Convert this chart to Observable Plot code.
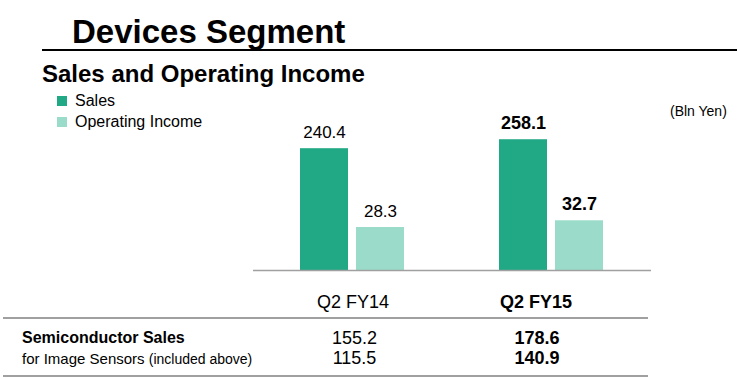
<!DOCTYPE html>
<html><head><meta charset="utf-8">
<script src="https://cdn.jsdelivr.net/npm/d3@7"></script>
<script src="https://cdn.jsdelivr.net/npm/@observablehq/plot@0.6"></script>
<style>
body{margin:0;background:#fff;font-family:"Liberation Sans",Arial,sans-serif;color:#000;}
#page{position:relative;width:737px;height:379px;overflow:hidden;background:#fff;}
.abs{position:absolute;white-space:nowrap;line-height:1;}
</style></head><body><div id="page"></div>
<script>
const periods = ["Q2 FY14", "Q2 FY15"];
const series = ["Sales", "Operating Income"];
const sales = [240.4, 258.1];
const operatingIncome = [28.3, 32.7];
const tableRows = ["Semiconductor Sales", "for Image Sensors"];
const semiconductorSales = [155.2, 178.6];
const imageSensorSales = [115.5, 140.9];
const colors = ["#21a885", "#9adcc9"];
const oiAxisFactor = 3; // operating income is drawn on its own (secondary) axis, 3x the sales axis

const data = periods.flatMap((p, i) => [
  {period: p, series: "Sales", value: sales[i], plotted: sales[i], current: i === 1},
  {period: p, series: "Operating Income", value: operatingIncome[i], plotted: operatingIncome[i] * oiAxisFactor, current: i === 1}
]);

const page = document.getElementById("page");
function addText(txt, left, top, size, weight, extra) {
  const d = document.createElement("div");
  d.className = "abs";
  d.textContent = txt;
  d.style.left = left + "px";
  d.style.top = top + "px";
  d.style.fontSize = size + "px";
  d.style.fontWeight = weight || "normal";
  if (extra) Object.assign(d.style, extra);
  page.appendChild(d);
  return d;
}
function addBox(left, top, w, h, bg) {
  const d = document.createElement("div");
  d.className = "abs";
  Object.assign(d.style, {left: left + "px", top: top + "px", width: w + "px", height: h + "px", background: bg});
  page.appendChild(d);
}

// Header
addText("Devices Segment", 72, 15, 33, "bold");
addBox(42, 49, 695, 2, "#000");
addText("Sales and Operating Income", 42, 62, 24, "bold");
// Legend
series.forEach((s, i) => {
  addBox(57, 96 + i * 21, 10, 10, colors[i]);
  addText(s, 75, 92.5 + i * 21, 16, "normal");
});
addText("(Bln Yen)", 670, 104, 14, "normal");

// Chart
const chart = Plot.plot({
  width: 737, height: 218,
  marginTop: 18, marginBottom: 48, marginLeft: 253, marginRight: 86,
  style: {fontFamily: "Liberation Sans, Arial, sans-serif", background: "transparent", color: "#000"},
  fx: {domain: periods, padding: 0, axis: null, label: null},
  x: {domain: series, paddingInner: 0.14, paddingOuter: 0.816, axis: null, label: null},
  y: {domain: [0, 300], axis: null},
  color: {domain: series, range: colors},
  marks: [
    Plot.barY(data, {fx: "period", x: "series", y: "plotted", fill: "series"}),
    Plot.ruleY([0], {stroke: "#a0a0a0", strokeWidth: 1.5}),
    Plot.text(data.filter(d => !d.current), {fx: "period", x: "series", y: "plotted", text: d => d.value.toFixed(1), dy: -10.5, lineAnchor: "bottom", fontSize: 17, fill: "#000"}),
    Plot.text(data.filter(d => d.current), {fx: "period", x: "series", y: "plotted", text: d => d.value.toFixed(1), dy: -10.5, lineAnchor: "bottom", fontSize: 18, fontWeight: "bold", fill: "#000"}),
    Plot.text(periods.slice(0, 1), {fx: d => d, text: d => d, frameAnchor: "bottom", lineAnchor: "bottom", dy: 37, fontSize: 18, fill: "#000"}),
    Plot.text(periods.slice(1), {fx: d => d, text: d => d, frameAnchor: "bottom", lineAnchor: "bottom", dy: 37, dx: -16, fontSize: 18, fontWeight: "bold", fill: "#000"})
  ]
});
chart.style.position = "absolute";
chart.style.left = "0px";
chart.style.top = "100px";
page.appendChild(chart);

// Table
addBox(3, 317, 645, 1.5, "#a0a0a0");
addBox(3, 375, 645, 1.5, "#a0a0a0");
addText(tableRows[0], 22, 329.5, 16, "bold");
const r2 = addText(tableRows[1] + " ", 22, 351.3, 15, "normal");
const small = document.createElement("span");
small.textContent = "(included above)";
small.style.fontSize = "14px";
r2.appendChild(small);
const colCenters = [354.5, 537];
[semiconductorSales, imageSensorSales].forEach((vals, r) => {
  vals.forEach((v, i) => {
    addText(v.toFixed(1), colCenters[i] - 50, (r === 0 ? 328.8 : 348.8), 18, i === 1 ? "bold" : "normal", {width: "100px", textAlign: "center"});
  });
});
</script></body></html>
